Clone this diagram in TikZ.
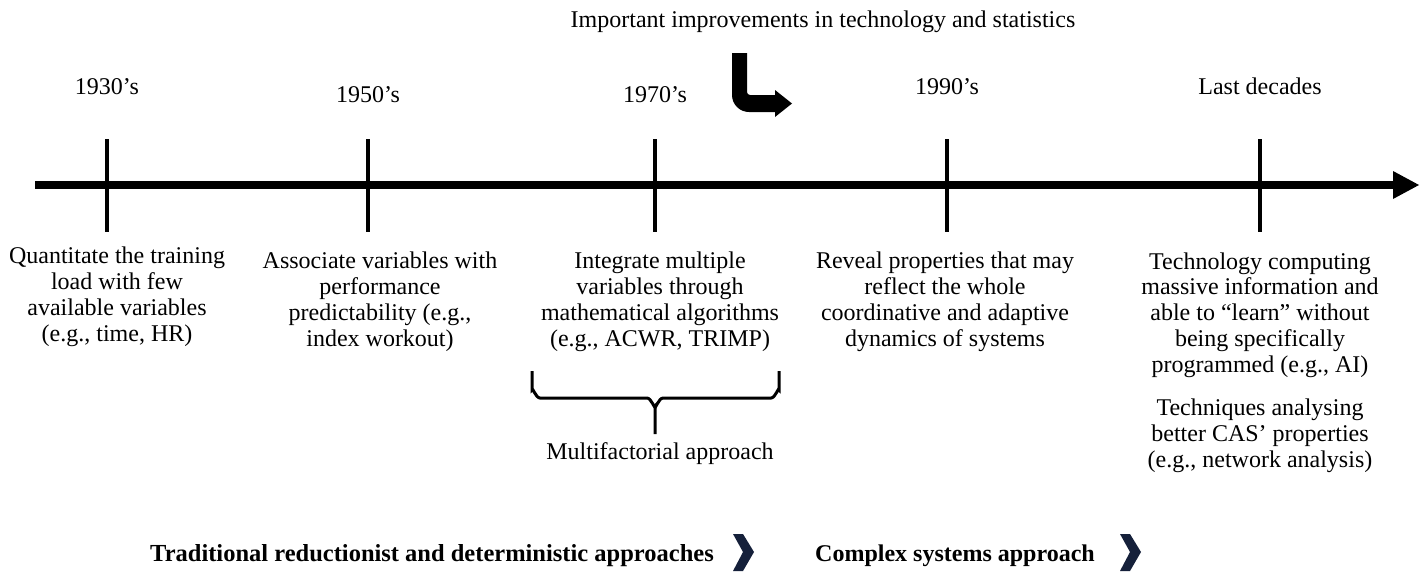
\documentclass[tikz,border=0pt]{standalone}
\usepackage{fontspec}
\setmainfont{Liberation Serif}
\usetikzlibrary{arrows.meta}
\definecolor{navy}{HTML}{15203A}
\tikzset{
  lbl/.style={font=\fontsize{24}{25.7}\selectfont, align=center, inner sep=0pt, anchor=base},
  yr/.style={font=\fontsize{24}{26}\selectfont, inner sep=0pt, anchor=base},
  tick/.style={line width=4pt},
  bold/.style={font=\fontsize{24}{26}\selectfont\bfseries, inner sep=0pt, anchor=base},
  chev/.style={fill=navy, draw=none},
}
\begin{document}
\begin{tikzpicture}[x=1pt,y=-1pt]
\useasboundingbox (0,0) rectangle (1426,576);
% axis
\coordinate (a0) at (35,185);
\coordinate (a1) at (1395,185);
\draw[line width=8pt] (a0) -- (a1);
\fill (1393,171) -- (1419,185) -- (1393,199) -- cycle;
% ticks
\foreach \n/\x in {t1/107,t2/368,t3/655,t4/947,t5/1260}{
  \coordinate (\n top) at (\x,139);
  \coordinate (\n bot) at (\x,232);
  \draw[tick] (\n top) -- (\n bot);
}
% header
\node[yr] (head) at (823,27) {Important improvements in technology and statistics};
% years
\node[yr] (y1) at (107,94) {1930’s};
\node[yr] (y2) at (368,102) {1950’s};
\node[yr] (y3) at (655,102) {1970’s};
\node[yr] (y4) at (947,94) {1990’s};
\node[yr] (y5) at (1260,94) {Last decades};
% bent arrow
\fill (732,53) -- (747,53) [rounded corners=3pt] -- (747,95) [sharp corners] -- (775,95) -- (775,90) -- (792,103.5) -- (775,117) -- (775,112)
  -- (750,112) [rounded corners=17pt] -- (732,112) [sharp corners] -- cycle;
% descriptions (anchor = baseline of last line)
\node[lbl] (d1) at (117,341) {Quantitate the training\\load with few\\available variables\\(e.g., time, HR)};
\node[lbl] (d2) at (380,346) {Associate variables with\\performance\\predictability (e.g.,\\index workout)};
\node[lbl] (d3) at (660,346) {Integrate multiple\\variables through\\mathematical algorithms\\(e.g., ACWR, TRIMP)};
\node[lbl] (d4) at (945,346) {Reveal properties that may\\reflect the whole\\coordinative and adaptive\\dynamics of systems};
\node[lbl] (d5) at (1260,372) {Technology computing\\massive information and\\able to “learn” without\\being specifically\\programmed (e.g., AI)};
\node[lbl] (d6) at (1260,467) {Techniques analysing\\better CAS’ properties\\(e.g., network analysis)};
% brace
\coordinate (bl) at (532,371);
\coordinate (br) at (779,371);
\coordinate (bt) at (655,434);
\draw[line width=3pt] (bl) -- (532,390) to[out=90,in=180] (540,398) -- (647,398) to[out=0,in=-90] (655,406) -- (bt);
\draw[line width=3pt] (br) -- (779,390) to[out=90,in=0] (771,398) -- (663,398) to[out=180,in=-90] (655,406);
\node[yr] (mf) at (660,459) {Multifactorial approach};
% bottom
\node[bold, font=\fontsize{24.5}{26}\selectfont\bfseries] (trad) at (432,561) {Traditional reductionist and deterministic approaches};
\node[bold] (cplx) at (955,561) {Complex systems approach};
\fill[chev] (733,534) -- (743,534) -- (754,552) -- (743,571) -- (733,571) -- (743,552) -- cycle;
\fill[chev] (1120,534) -- (1130,534) -- (1141,552) -- (1130,571) -- (1120,571) -- (1130,552) -- cycle;
\end{tikzpicture}
\end{document}
